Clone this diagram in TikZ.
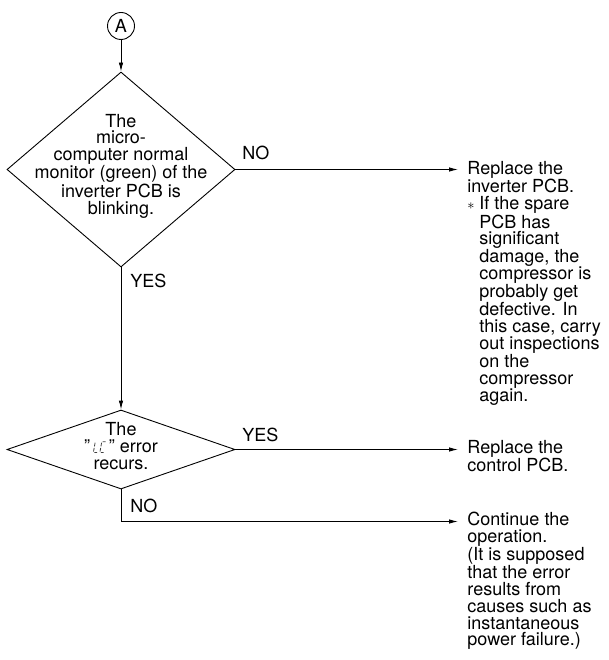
\documentclass[tikz,border=0pt]{standalone}
\usepackage{fontspec}
\setmainfont{TeX Gyre Heros}
\usetikzlibrary{shapes.geometric,arrows.meta}

% seven-segment "LC" as shown on the unit display
\newcommand{\segLC}{\tikz[baseline=0pt, x=1pt, y=1pt, xslant=0.18, line width=0.8pt, draw=black!75]{
  \draw (0,0.9) -- (0,4.6) (0,6.0) -- (0,9.7) (0.9,0) -- (3.8,0);
  \draw (6.5,0.9) -- (6.5,4.6) (6.5,6.0) -- (6.5,9.7) (7.4,0) -- (10.3,0) (7.4,10.6) -- (10.3,10.6);
}}
\newcommand{\notemark}{\makebox[12pt][l]{\fontsize{15}{15}\selectfont$\ast$}}

\begin{document}
\begin{tikzpicture}[
  x=1pt, y=-1pt,
  line width=0.9pt,
  font=\fontsize{18}{16.8}\selectfont,
  dec/.style={diamond, draw, inner sep=0pt, minimum width=228pt},
  txt/.style={align=center, inner sep=0pt},
  note/.style={align=left, anchor=north west, inner sep=0pt},
  lbl/.style={anchor=base west, inner sep=0pt},
  arr/.style={-{Latex[length=9pt,width=4.5pt]}},
]
  \useasboundingbox (0,0) rectangle (609,660);

  % Connector, decisions and their texts
  \node[circle, draw, minimum size=27pt, inner sep=0pt] (conA) at (121,26) {A};
  \node[dec, minimum height=195pt] (dec1) at (121,169.5) {};
  \node[txt] (dec1txt) at (121,166) {The\\micro-\\computer normal\\monitor (green) of the\\inverter PCB is\\blinking.};
  \node[dec, minimum height=79pt] (dec2) at (121,449.5) {};
  \node[txt] (dec2txt) at (121,446) {The\\"\,\segLC\," error\\recurs.};

  % Results on the right
  \node[note] (res1) at (467,161) {Replace the\\inverter PCB.\\\notemark If the spare\\\hspace*{12pt}PCB has\\\hspace*{12pt}significant\\\hspace*{12pt}damage, the\\\hspace*{12pt}compressor is\\\hspace*{12pt}probably get\\\hspace*{12pt}defective. In\\\hspace*{12pt}this case, carry\\\hspace*{12pt}out inspections\\\hspace*{12pt}on the\\\hspace*{12pt}compressor\\\hspace*{12pt}again.};
  \node[note] (res2) at (467,440) {Replace the\\control PCB.};
  \node[note] (res3) at (467,512) {Continue the\\operation.\\(It is supposed\\that the error\\results from\\causes such as\\instantaneous\\power failure.)};

  % Branch labels
  \node[lbl] (no1) at (242,160) {NO};
  \node[lbl] (yes1) at (130,287) {YES};
  \node[lbl] (yes2) at (242,441) {YES};
  \node[lbl] (no2) at (130,512) {NO};
  \coordinate (turn3) at (121,521.5);

  % Connectors
  \draw[arr] (conA) -- (dec1.north);
  \draw[arr] (dec1.south) -- (dec2.north);
  \draw[arr, shorten >=9pt] (dec1.east) -- (dec1.east -| res1.west);
  \draw[arr, shorten >=9pt] (dec2.east) -- (dec2.east -| res2.west);
  \draw[arr, shorten >=9pt] (dec2.south) -- (turn3) -- (turn3 -| res3.west);
\end{tikzpicture}
\end{document}
